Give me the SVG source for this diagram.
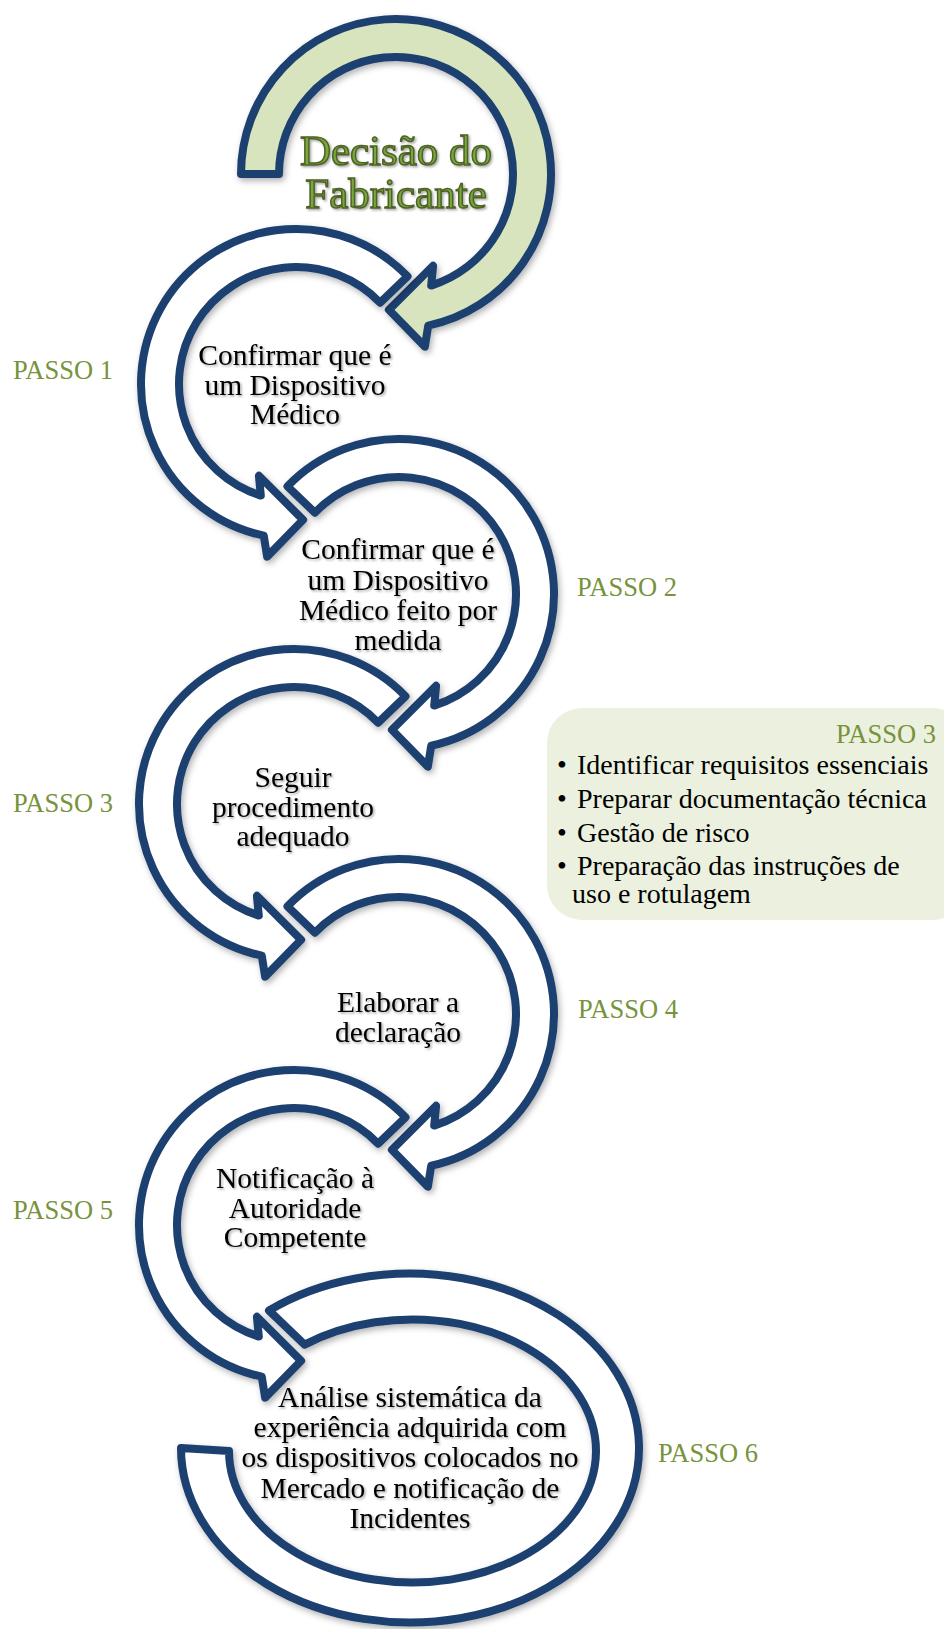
<svg xmlns="http://www.w3.org/2000/svg" xmlns:xlink="http://www.w3.org/1999/xlink" width="944" height="1629" viewBox="0 0 944 1629">
<style>
.band{stroke:#1F4070;stroke-width:8;stroke-linejoin:round}
.w{fill:#FFFFFF}
.g{fill:#D7E4BD}
.t{font-family:"Liberation Serif","Times New Roman",serif;font-size:29.5px;fill:#000;text-anchor:middle}
.p{font-family:"Liberation Serif","Times New Roman",serif;font-size:26.5px;fill:#77933C}
.b{font-family:"Liberation Serif","Times New Roman",serif;font-size:28px;fill:#000}
.title{font-family:"Liberation Serif","Times New Roman",serif;font-size:43px;fill:#78A83A;stroke:#4F6228;stroke-width:1.5;text-anchor:middle}
</style>
<defs>
<filter id="sh" x="-20%" y="-20%" width="140%" height="140%">
<feDropShadow dx="2" dy="3" stdDeviation="3" flood-color="#000" flood-opacity="0.3"/>
</filter>
<filter id="tsh" x="-10%" y="-30%" width="120%" height="160%">
<feDropShadow dx="1.5" dy="1.5" stdDeviation="1" flood-color="#000" flood-opacity="0.35"/>
</filter>
<path id="arrowG" d="M -155 0 A 155 155 0 1 1 32.23 151.61 L 28.88 172.60 L -7.12 135.81 L 37.09 91.79 L 35.18 111.58 A 117 117 0 1 0 -117 0 Z"/>
<path id="arrowW" d="M -111.49 -107.68 A 155 155 0 1 1 32.23 151.61 L 28.88 172.60 L -7.12 135.81 L 37.09 91.79 L 35.18 111.58 A 117 117 0 1 0 -84.16 -81.28 Z"/>
</defs>
<rect width="944" height="1629" fill="#FFFFFF"/>

<g id="start">
<g filter="url(#sh)"><use xlink:href="#arrowG" href="#arrowG" class="band g" transform="translate(396,174)"/></g>
<g filter="url(#tsh)">
<text class="title" x="396" y="165">Decisão do</text>
<text class="title" x="396" y="208">Fabricante</text>
</g>
</g>

<g id="step1">
<g filter="url(#sh)"><use xlink:href="#arrowW" href="#arrowW" class="band w" transform="translate(296,384) scale(-1,1)"/></g>
<g filter="url(#tsh)">
<text class="t" x="295" y="365">Confirmar que é</text>
<text class="t" x="295" y="394.5">um Dispositivo</text>
<text class="t" x="295" y="424">Médico</text>
</g>
</g>

<g id="step2">
<g filter="url(#sh)"><use xlink:href="#arrowW" href="#arrowW" class="band w" transform="translate(399,594)"/></g>
<g filter="url(#tsh)">
<text class="t" x="398" y="559">Confirmar que é</text>
<text class="t" x="398" y="589.5">um Dispositivo</text>
<text class="t" x="398" y="620">Médico feito por</text>
<text class="t" x="398" y="650">medida</text>
</g>
</g>

<g id="step3">
<g filter="url(#sh)"><use xlink:href="#arrowW" href="#arrowW" class="band w" transform="translate(294,804) scale(-1,1)"/></g>
<g filter="url(#tsh)">
<text class="t" x="293" y="787">Seguir</text>
<text class="t" x="293" y="816.5">procedimento</text>
<text class="t" x="293" y="846">adequado</text>
</g>
</g>

<g id="step4">
<g filter="url(#sh)"><use xlink:href="#arrowW" href="#arrowW" class="band w" transform="translate(399,1014)"/></g>
<g filter="url(#tsh)">
<text class="t" x="398" y="1012">Elaborar a</text>
<text class="t" x="398" y="1042">declaração</text>
</g>
</g>

<g id="step6">
<g filter="url(#sh)"><path class="band w" d="M 269 1310.5 A 229 174.5 0 1 1 181 1448 L 229 1451 A 183.5 131.5 0 1 0 304.6 1344.6 Z"/></g>
<g filter="url(#tsh)">
<text class="t" x="410" y="1407">Análise sistemática da</text>
<text class="t" x="410" y="1437">experiência adquirida com</text>
<text class="t" x="410" y="1467">os dispositivos colocados no</text>
<text class="t" x="410" y="1498">Mercado e notificação de</text>
<text class="t" x="410" y="1528">Incidentes</text>
</g>
</g>

<g id="step5">
<g filter="url(#sh)"><use xlink:href="#arrowW" href="#arrowW" class="band w" transform="translate(294,1225) scale(-1,1)"/></g>
<g filter="url(#tsh)">
<text class="t" x="295" y="1188">Notificação à</text>
<text class="t" x="295" y="1218">Autoridade</text>
<text class="t" x="295" y="1247">Competente</text>
</g>
</g>

<g id="labels">
<text class="p" x="13" y="379">PASSO 1</text>
<text class="p" x="577" y="596">PASSO 2</text>
<text class="p" x="13" y="812">PASSO 3</text>
<text class="p" x="578" y="1018">PASSO 4</text>
<text class="p" x="13" y="1219">PASSO 5</text>
<text class="p" x="658" y="1462">PASSO 6</text>
</g>

<g id="passo3-box">
<rect x="547" y="708" width="420" height="212" rx="35" ry="35" fill="#EBF1DE"/>
<text class="p" x="936" y="743" text-anchor="end">PASSO 3</text>
<text class="b" x="557" y="774">•</text>
<text class="b" x="577" y="774">Identificar requisitos essenciais</text>
<text class="b" x="557" y="808">•</text>
<text class="b" x="577" y="808">Preparar documentação técnica</text>
<text class="b" x="557" y="842">•</text>
<text class="b" x="577" y="842">Gestão de risco</text>
<text class="b" x="557" y="875">•</text>
<text class="b" x="577" y="875">Preparação das instruções de</text>
<text class="b" x="572" y="903">uso e rotulagem</text>
</g>
<g id="connectors"></g>
</svg>
